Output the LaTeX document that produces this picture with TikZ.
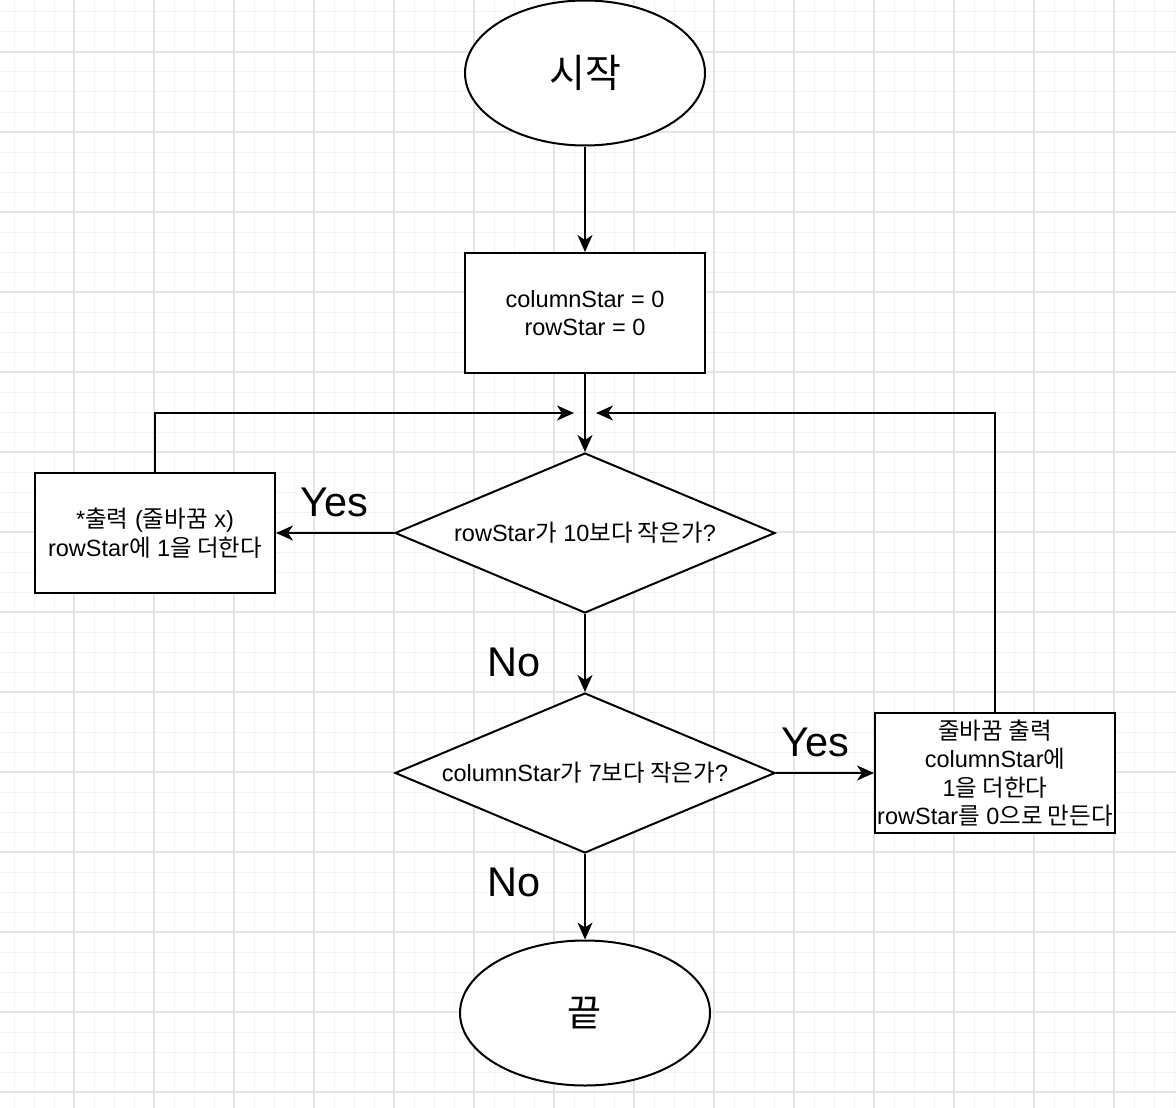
\documentclass[tikz,border=0pt]{standalone}
\usepackage{fontspec}
\setmainfont{Liberation Sans}
\newfontfamily\kr{Noto Sans CJK KR}
\usetikzlibrary{shapes.geometric,arrows.meta}
\newcommand\ko[1]{{\kr #1}}
\definecolor{gridminor}{HTML}{F3F3F3}
\definecolor{gridmajor}{HTML}{E4E4E4}
\tikzset{
  minorline/.style={draw=gridminor,line width=1pt},
  majorline/.style={draw=gridmajor,line width=1.2pt},
  shapebase/.style={draw=black,line width=2pt,fill=white,inner sep=0pt,align=center,
    font=\fontsize{23.5}{28.5}\selectfont},
  oval/.style={shapebase,ellipse,minimum width=240pt,minimum height=145pt,
    font=\fontsize{39}{42}\selectfont},
  procbox/.style={shapebase,rectangle,minimum width=240pt,minimum height=120pt},
  decision/.style={shapebase,diamond,shape aspect=2.375,minimum width=380pt,minimum height=160pt},
  arr/.style={draw=black,line width=2pt,-{Stealth[length=17pt,width=15pt,inset=5pt]}},
  biglabel/.style={inner sep=0pt,font=\fontsize{41.5}{44}\selectfont}
}
\begin{document}
\begin{tikzpicture}[x=1pt,y=-1pt]
\useasboundingbox (0,0) rectangle (1176,1108);
\fill[white] (0,0) rectangle (1176,1108);
\foreach \x in {14,34,...,1174} \draw[minorline] (\x,0) -- (\x,1108);
\foreach \y in {12,32,...,1100} \draw[minorline] (0,\y) -- (1176,\y);
\foreach \x in {74,154,...,1174} \draw[majorline] (\x,0) -- (\x,1108);
\foreach \y in {52,132,...,1100} \draw[majorline] (0,\y) -- (1176,\y);

\node[oval] (start) at (585,73) {\ko{시작}};
\node[procbox] (init) at (585,313) {columnStar = 0\\rowStar = 0};
\node[decision] (d1) at (585,533) {rowStar\ko{가} 10\ko{보다 작은가}?};
\node[procbox] (out) at (155,533) {*\ko{출력} (\ko{줄바꿈} x)\\rowStar\ko{에} 1\ko{을 더한다}};
\node[decision] (d2) at (585,773) {columnStar\ko{가} 7\ko{보다 작은가}?};
\node[procbox] (nl) at (995,773) {\ko{줄바꿈 출력}\\columnStar\ko{에}\\1\ko{을 더한다}\\rowStar\ko{를} 0\ko{으로 만든다}};
\node[oval,minimum width=250pt,font=\fontsize{37}{40}\selectfont] (end) at (585,1013) {\ko{끝}};

\coordinate (jl) at (574,413);
\coordinate (jr) at (596,413);

\draw[arr] (start) -- (init);
\draw[arr] (init) -- (d1);
\draw[arr] (d1.west) -- (out.east);
\draw[arr] (d1) -- (d2);
\draw[arr] (d2.east) -- (nl.west);
\draw[arr] (d2) -- (end);
\draw[arr] (out.north) |- (jl);
\draw[arr] (nl.north) |- (jr);

\node[biglabel] (yes1) at (334,502) {Yes};
\node[biglabel] (no1) at (514,662) {No};
\node[biglabel] (yes2) at (815,742) {Yes};
\node[biglabel] (no2) at (514,882) {No};
\end{tikzpicture}
\end{document}
